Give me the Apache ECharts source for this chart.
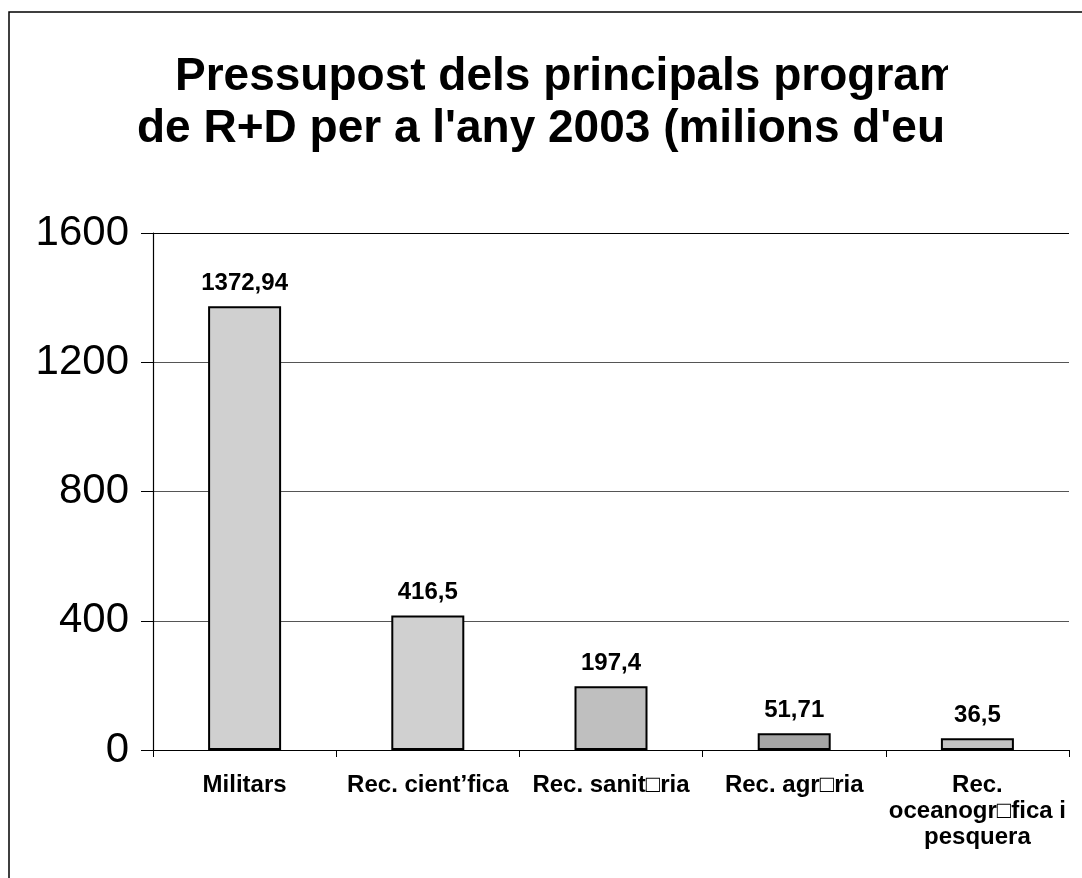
<!DOCTYPE html>
<html><head><meta charset="utf-8">
<script src="https://cdn.jsdelivr.net/npm/echarts@6/dist/echarts.min.js"></script>
<style>html,body{margin:0;padding:0;background:#fff}#c{width:1082px;height:878px}</style>
</head><body><div id="c"></div>
<script>
const titleLines = ["Pressupost dels principals program", "de R+D per a l'any 2003 (milions d'eu"];
const categories = ["Militars", "Rec. cient\u2019fica", "Rec. sanit\u25A1ria", "Rec. agr\u25A1ria", "Rec.\noceanogr\u25A1fica i\npesquera"];
const values = [1372.94, 416.5, 197.4, 51.71, 36.5];
const barColors = ["#d0d0d0", "#d0d0d0", "#bfbfbf", "#a4a4a4", "#c2c2c2"];
const yTicks = [0, 400, 800, 1200, 1600];

const font = "'Liberation Sans', Arial, sans-serif";
const chart = echarts.init(document.getElementById('c'), null, {renderer: 'canvas'});
chart.setOption({
  animation: false,
  backgroundColor: '#fff',
  title: [
    {text: titleLines[0], left: 170, top: 49, textStyle: {fontFamily: font, fontWeight: 'bold', fontSize: 46, color: '#000'}},
    {text: titleLines[1], left: 132, top: 101, textStyle: {fontFamily: font, fontWeight: 'bold', fontSize: 46, color: '#000'}}
  ],
  graphic: [
    {type: 'rect', z: 100, shape: {x: 948, y: 38, width: 140, height: 130}, style: {fill: '#fff'}},
    {type: 'rect', z: 101, shape: {x: 9, y: 12, width: 1200, height: 1000}, style: {fill: 'none', stroke: '#000', lineWidth: 1.5}}
  ],
  grid: {left: 153, right: 13, top: 233, bottom: 128, containLabel: false},
  xAxis: {
    type: 'category',
    data: categories,
    axisLine: {lineStyle: {color: '#000', width: 1.2}},
    axisTick: {show: true, length: 7, lineStyle: {color: '#000'}},
    axisLabel: {fontFamily: font, fontWeight: 'bold', fontSize: 24, color: '#000', margin: 22, lineHeight: 26, interval: 0}
  },
  yAxis: {
    type: 'value',
    min: 0, max: 1600, interval: 400,
    axisLine: {show: true, lineStyle: {color: '#000', width: 1.2}},
    axisTick: {show: true, length: 12, lineStyle: {color: '#000'}},
    axisLabel: {fontFamily: font, fontSize: 42, color: '#000', margin: 24,
      formatter: v => yTicks.includes(v) ? String(v) : ''},
    splitLine: {show: true, lineStyle: {color: ['#000', '#555', '#555', '#555', '#000'], width: 1.2}}
  },
  series: [{
    type: 'bar',
    barWidth: 73,
    data: values.map((v, i) => ({value: v, itemStyle: {color: barColors[i]}})),
    itemStyle: {borderColor: '#000', borderWidth: 2},
    label: {
      show: true, position: 'top', distance: 11,
      fontFamily: font, fontWeight: 'bold', fontSize: 24, color: '#000',
      formatter: p => String(p.value).replace('.', ',')
    }
  }]
});
</script></body></html>
